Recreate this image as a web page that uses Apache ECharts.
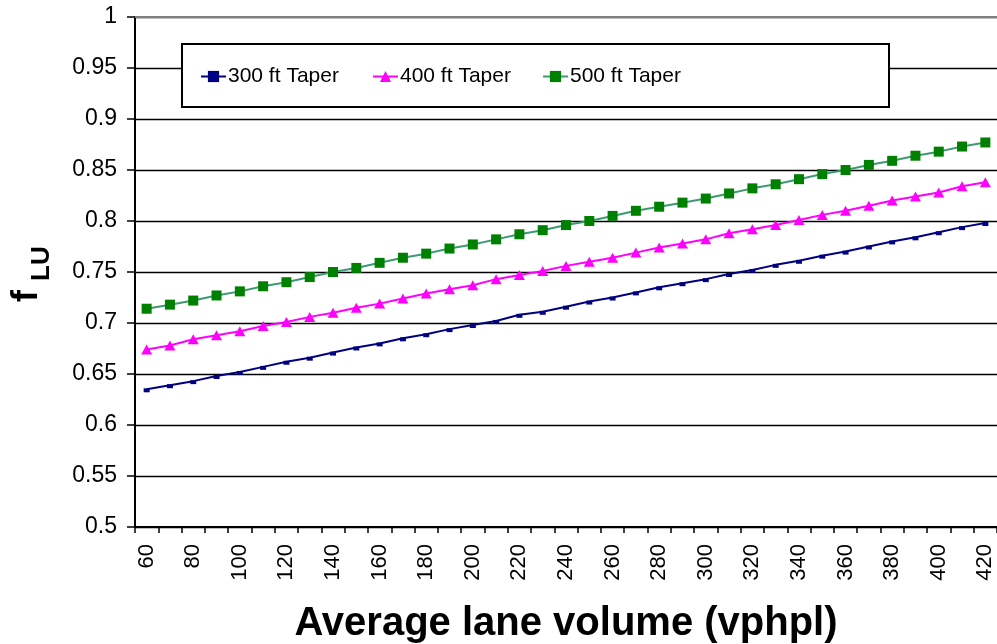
<!DOCTYPE html>
<html>
<head>
<meta charset="utf-8">
<style>
  html, body { margin: 0; padding: 0; background: #fff; }
  #chart { width: 997px; height: 644px; }
</style>
<script src="https://cdn.jsdelivr.net/npm/echarts@6/dist/echarts.min.js"></script>
</head>
<body>
<div id="chart"></div>
<script>
// Average lane volume (vphpl)
const volumes = ['60','70','80','90','100','110','120','130','140','150','160','170','180','190',
  '200','210','220','230','240','250','260','270','280','290','300','310','320','330','340',
  '350','360','370','380','390','400','410','420'];

// f_LU for each taper length
const taper300 = [0.635,0.639,0.643,0.648,0.652,0.657,0.662,0.666,0.671,0.676,0.680,0.685,0.689,0.694,
  0.698,0.702,0.708,0.711,0.716,0.721,0.725,0.730,0.735,0.739,0.743,0.748,0.752,0.757,0.761,
  0.766,0.770,0.775,0.780,0.784,0.789,0.794,0.798];
const taper400 = [0.674,0.678,0.684,0.688,0.692,0.697,0.701,0.706,0.710,0.715,0.719,0.724,0.729,0.733,
  0.737,0.743,0.747,0.751,0.756,0.760,0.764,0.769,0.774,0.778,0.782,0.788,0.792,0.796,0.801,
  0.806,0.810,0.815,0.820,0.824,0.828,0.834,0.838];
const taper500 = [0.714,0.718,0.722,0.727,0.731,0.736,0.740,0.745,0.750,0.754,0.759,0.764,0.768,0.773,
  0.777,0.782,0.787,0.791,0.796,0.800,0.805,0.810,0.814,0.818,0.822,0.827,0.832,0.836,0.841,
  0.846,0.850,0.855,0.859,0.864,0.868,0.873,0.877];

const seriesNames = ['300 ft Taper', '400 ft Taper', '500 ft Taper'];

const FONT = "'Liberation Sans', Arial, sans-serif";

const chart = echarts.init(document.getElementById('chart'), null, { renderer: 'canvas' });

function legendAt(name, left) {
  return {
    data: [name],
    left: left,
    top: 66,
    itemWidth: 25,
    itemHeight: 14,
    itemGap: 0,
    padding: 0,
    selectedMode: false,
    z: 6,
    textStyle: { fontFamily: FONT, fontSize: 21, color: '#000', padding: [0, 0, 0, -3] }
  };
}

chart.setOption({
  animation: false,
  backgroundColor: '#fff',
  grid: { left: 135, right: 0, top: 17, bottom: 117, containLabel: false, outerBoundsMode: 'none' },
  legend: [
    legendAt(seriesNames[0], 200),
    legendAt(seriesNames[1], 372),
    legendAt(seriesNames[2], 542)
  ],
  xAxis: [{
    type: 'category',
    data: volumes,
    boundaryGap: true,
    axisLine: { lineStyle: { color: '#000', width: 2 } },
    axisTick: { show: true, interval: 0, length: 6, lineStyle: { color: '#000', width: 1.5 } },
    axisLabel: {
      interval: 1, rotate: 90, margin: 17,
      fontFamily: FONT, fontSize: 22, color: '#000'
    },
    splitLine: { show: false },
    name: 'Average lane volume (vphpl)',
    nameLocation: 'middle',
    nameGap: 77,
    nameTextStyle: { fontFamily: FONT, fontSize: 40, fontWeight: 'bold', color: '#000' }
  }, {
    type: 'category',
    data: volumes,
    position: 'top',
    axisLine: { show: true, lineStyle: { color: '#808080', width: 2 } },
    axisTick: { show: false },
    axisLabel: { show: false },
    splitLine: { show: false }
  }],
  yAxis: {
    type: 'value',
    min: 0.5, max: 1, interval: 0.05,
    axisLine: { show: true, lineStyle: { color: '#000', width: 2 } },
    axisTick: { show: true, length: 8, lineStyle: { color: '#000', width: 1.5 } },
    axisLabel: {
      margin: 18, fontFamily: FONT, fontSize: 23, color: '#000',
      formatter: v => String(+v.toFixed(2))
    },
    splitLine: { show: true, lineStyle: { color: '#000', width: 1.3 } }
  },
  graphic: [
    {
      type: 'rect', z: 5,
      shape: { x: 182, y: 44, width: 707, height: 63 },
      style: { fill: '#fff', stroke: '#000', lineWidth: 2 }
    },
    {
      type: 'text', z: 5, x: 45, y: 302, rotation: Math.PI / 2,
      style: { text: 'f', font: "bold 36px " + FONT, fill: '#000', textAlign: 'left', textVerticalAlign: 'bottom' }
    },
    {
      type: 'text', z: 5, x: 55, y: 281, rotation: Math.PI / 2,
      style: { text: 'LU', font: "bold 26px " + FONT, fill: '#000', textAlign: 'left', textVerticalAlign: 'bottom' }
    }
  ],
  series: [
    {
      name: seriesNames[0], type: 'line', data: taper300,
      symbol: 'rect', symbolSize: [6, 4], symbolOffset: [0, 1], showAllSymbol: true,
      lineStyle: { color: '#000080', width: 2 },
      itemStyle: { color: '#000080' }
    },
    {
      name: seriesNames[1], type: 'line', data: taper400,
      symbol: 'triangle', symbolSize: [11, 10], showAllSymbol: true,
      lineStyle: { color: '#ff00ff', width: 2 },
      itemStyle: { color: '#ff00ff' }
    },
    {
      name: seriesNames[2], type: 'line', data: taper500,
      symbol: 'rect', symbolSize: [10, 10], showAllSymbol: true,
      lineStyle: { color: '#3d9970', width: 2 },
      itemStyle: { color: '#008000' }
    }
  ]
});
</script>
</body>
</html>
